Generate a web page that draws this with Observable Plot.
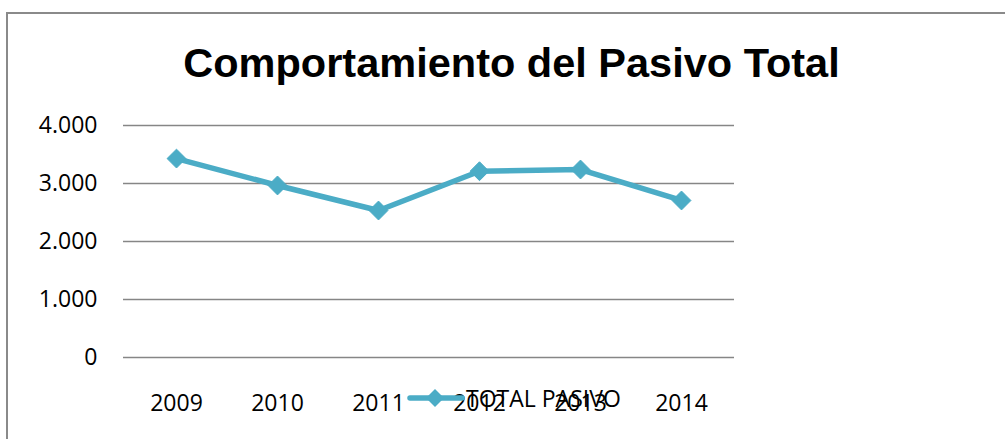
<!DOCTYPE html>
<html>
<head>
<meta charset="utf-8">
<script src="https://cdn.jsdelivr.net/npm/d3@7"></script>
<script src="https://cdn.jsdelivr.net/npm/@observablehq/plot@0.6"></script>
<style>
  html, body { margin: 0; padding: 0; background: #fff; }
  #wrap { position: relative; width: 1005px; height: 439px; overflow: hidden; }
  #frame { position: absolute; left: 6px; top: 12px; width: 1100px; height: 500px;
           border-top: 2px solid #8a8a8a; border-left: 2px solid #8a8a8a; box-sizing: border-box; }
  #title { position: absolute; left: 0; width: 1023px; top: 42px; margin: 0; text-align: center;
           font-family: "Liberation Sans", sans-serif; font-weight: bold;
           font-size: 41.5px; line-height: 1; color: #000; white-space: nowrap; }
  #chart { position: absolute; left: 0; top: 0; }
  #legend { position: absolute; left: 407px; top: 384px; height: 28px; display: flex; align-items: center;
            font-family: "Open Sans", sans-serif; font-size: 23px; color: #000; }
  #legend svg { display: block; }
</style>
</head>
<body>
<div id="wrap">
  <div id="frame"></div>
  <div id="title">Comportamiento del Pasivo Total</div>
  <div id="chart"></div>
  <div id="legend"></div>
</div>
<script>
const years = ["2009", "2010", "2011", "2012", "2013", "2014"];
const totalPasivo = [3430, 2966, 2534, 3212, 3241, 2707];
const yTicks = [0, 1000, 2000, 3000, 4000];
const seriesName = "TOTAL PASIVO";
const lineColor = "#4BACC6";

const data = years.map((y, i) => ({year: y, value: totalPasivo[i]}));
const fmt = d => d3.format(",")(d).replace(/,/g, ".");

const chart = Plot.plot({
  width: 1005,
  height: 439,
  marginLeft: 123,
  marginRight: 271,
  marginTop: 125,
  marginBottom: 82,
  style: {fontFamily: "Open Sans, sans-serif", fontSize: "23px", color: "#000", background: "transparent", overflow: "visible"},
  x: {type: "point", domain: years, padding: 0.5},
  y: {domain: [0, 4000]},
  marks: [
    Plot.ruleY(yTicks, {stroke: "#868686", strokeWidth: 1.5}),
    Plot.axisY({ticks: yTicks, tickSize: 0, tickPadding: 26, tickFormat: fmt, label: null, fontSize: 23}),
    Plot.axisX({tickSize: 0, tickPadding: 37, label: null, fontSize: 23}),
    Plot.line(data, {x: "year", y: "value", stroke: lineColor, strokeWidth: 5.5, strokeLinejoin: "round"}),
    Plot.dot(data, {x: "year", y: "value", symbol: "diamond2", r: 8.5, fill: lineColor, stroke: lineColor, strokeWidth: 1})
  ]
});
document.getElementById("chart").appendChild(chart);

const legend = document.getElementById("legend");
legend.innerHTML = `<svg width="58" height="28"><line x1="3" y1="14" x2="55" y2="14" stroke="${lineColor}" stroke-width="5.5" stroke-linecap="round"/><path d="M28,5 L37,14 L28,23 L19,14 Z" fill="${lineColor}"/></svg><span style="margin-left:1px">${seriesName}</span>`;
</script>
</body>
</html>
